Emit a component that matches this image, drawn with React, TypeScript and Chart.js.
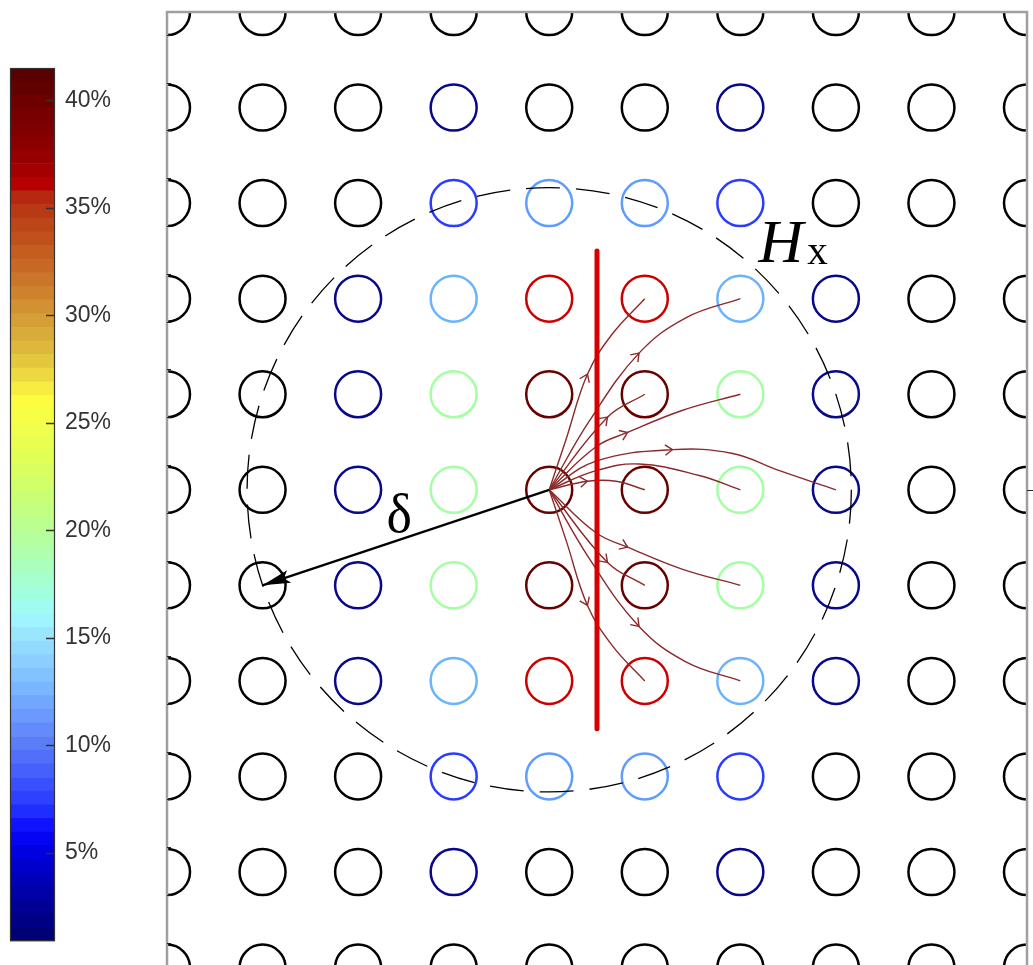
import React, { useEffect, useRef } from "react";
import { Chart, registerables } from "chart.js";
Chart.register(...registerables);

// ---- grid of circles (data units: one unit = one grid step) ----
const gridX = [-4, -3, -2, -1, 0, 1, 2, 3, 4, 5];
const gridY = [5, 4, 3, 2, 1, 0, -1, -2, -3, -4, -5];
// colour level of each circle, rows from top to bottom
const circleLevels = [
  [0, 0, 0, 0, 0, 0, 0, 0, 0, 0],
  [0, 0, 0, 1, 0, 0, 1, 0, 0, 0],
  [0, 0, 0, 2, 3, 3, 2, 0, 0, 0],
  [0, 0, 1, 4, 6, 6, 4, 1, 0, 0],
  [0, 0, 1, 5, 7, 7, 5, 1, 0, 0],
  [0, 0, 1, 5, 7, 7, 5, 1, 0, 0],
  [0, 0, 1, 5, 7, 7, 5, 1, 0, 0],
  [0, 0, 1, 4, 6, 6, 4, 1, 0, 0],
  [0, 0, 0, 2, 3, 3, 2, 0, 0, 0],
  [0, 0, 0, 1, 0, 0, 1, 0, 0, 0],
  [0, 0, 0, 0, 0, 0, 0, 0, 0, 0],
];
const levelColors = ["#000000", "#08088a", "#2a3cff", "#5f9cff", "#6ab4ff", "#a4ffa4", "#cc0000", "#680000"];

// ---- streamlines from the source circle (x, y) ----
const streamA = [[0, 0], [0.18, 0.54], [0.4, 1.21], [0.66, 1.63], [1, 2]];
const streamB = [[0, 0], [0.42, 0.72], [0.94, 1.43], [1.43, 1.8], [2, 2]];
const streamC = [[0, 0], [0.61, 0.76], [1, 1]];
const streamD = [[0, 0], [0.49, 0.45], [0.82, 0.6], [1.39, 0.83], [2, 1]];
const streamE = [[0, 0], [0.49, 0.3], [1.29, 0.42], [1.92, 0.38], [2.41, 0.2], [3, 0]];
const streamF = [[0, 0], [0.49, 0.2], [0.94, 0.27], [1.57, 0.15], [2, 0]];
const streamG = [[0, 0], [0.4, 0.09], [0.7, 0.09], [1, 0]];
const streamA2 = [[0, 0], [0.18, -0.54], [0.4, -1.21], [0.66, -1.63], [1, -2]];
const streamB2 = [[0, 0], [0.42, -0.72], [0.94, -1.43], [1.43, -1.8], [2, -2]];
const streamC2 = [[0, 0], [0.61, -0.76], [1, -1]];
const streamD2 = [[0, 0], [0.49, -0.45], [0.82, -0.6], [1.39, -0.83], [2, -1]];
const streamlines = [streamA, streamB, streamC, streamD, streamE, streamF, streamG, streamA2, streamB2, streamC2, streamD2];
const arrowIndices = [2, 2, 1, 2, 2, -1, 1, 2, 2, 1, 2];

const redLine = [[0.5, 2.5], [0.5, -2.5]];
const deltaArrow = [[0, 0], [-3, -1]];
const DELTA_CENTER = [0, 0];
const DELTA_RADIUS = 3.162;

const leftAxisTicks = [4.76, 4.26, 3.76, 3.26, 2.76, 2.26, 1.76, 1.26, 0.76, 0.26, -0.24, -0.74, -1.24, -1.74, -2.24, -2.74, -3.24, -3.74, -4.24, -4.74];
const rightAxisTicks = [0];

const deltaLabel = { text: "δ", x: -1.57, y: -0.44 };
const hLabel = { text: "H", x: 2.19, y: 2.386 };
const hSubLabel = { text: "x", x: 2.7, y: 2.365 };

// ---- colour bar ----
const COLORBAR_MIN = 0.89;
const COLORBAR_MAX = 41.51;
const COLORBAR_LEVELS = 64;
const colorbarTicks = [5, 10, 15, 20, 25, 30, 35, 40];
const colormapStops: [number, string][] = [
  [0.9, "#00006c"], [2.1, "#00008e"], [3.5, "#0000b0"], [5, "#0000e0"], [6, "#0808ff"],
  [7.2, "#2838ff"], [8.5, "#4058ff"], [10, "#5a7cf8"], [11.7, "#6fa0ff"], [13.1, "#80c0ff"],
  [14.9, "#98e0ff"], [16, "#a0f8ff"], [16.7, "#a0ffe8"], [18.3, "#aaffbe"], [20, "#b8ff96"],
  [21.3, "#c6ff78"], [23.1, "#dcff5a"], [25, "#f4ff48"], [26.1, "#fdfd40"], [27, "#f0e040"],
  [28.1, "#e0c03c"], [30, "#d49a34"], [31.4, "#cc7a2c"], [33.2, "#c2581e"], [34.2, "#bc4618"],
  [34.8, "#b83a14"], [35.5, "#b42810"], [36.1, "#b80000"], [36.7, "#a40000"], [37.4, "#960000"],
  [38, "#8a0000"], [38.6, "#800000"], [39.2, "#780000"], [39.9, "#6e0000"], [40.5, "#640000"],
  [41.2, "#5a0000"],
];

function hexRgb(h: string) {
  const n = parseInt(h.slice(1), 16);
  return [(n >> 16) & 255, (n >> 8) & 255, n & 255];
}
function sampleColormap(v: number) {
  const s = colormapStops;
  if (v <= s[0][0]) return s[0][1];
  if (v >= s[s.length - 1][0]) return s[s.length - 1][1];
  for (let i = 0; i < s.length - 1; i++) {
    const [a, ca] = s[i];
    const [b, cb] = s[i + 1];
    if (v >= a && v <= b) {
      const t = (v - a) / (b - a);
      const A = hexRgb(ca), B = hexRgb(cb);
      const c = A.map((x, k) => Math.round(x + (B[k] - x) * t));
      return `rgb(${c[0]},${c[1]},${c[2]})`;
    }
  }
  return s[0][1];
}

const overlayPlugin = {
  id: "overlay",
  afterDatasetsDraw(chart: any) {
    const { ctx, chartArea, scales } = chart;
    const xs = scales.x, ys = scales.y;
    const px = (v: number) => xs.getPixelForValue(v);
    const py = (v: number) => ys.getPixelForValue(v);
    ctx.save();

    // dashed circle of radius delta
    const cx = px(DELTA_CENTER[0]), cy = py(DELTA_CENTER[1]);
    const r = px(DELTA_CENTER[0] + DELTA_RADIUS) - cx;
    ctx.setLineDash([34, 16]);
    ctx.lineWidth = 1.3;
    ctx.strokeStyle = "#000";
    ctx.beginPath();
    ctx.arc(cx, cy, r, 0, Math.PI * 2);
    ctx.stroke();
    ctx.setLineDash([]);

    // open chevrons on streamlines
    chart.data.datasets.forEach((ds: any, i: number) => {
      const idx = ds.arrowIndex;
      if (idx == null || idx < 0) return;
      const meta = chart.getDatasetMeta(i);
      const p = meta.data[idx];
      if (!p) return;
      let dx, dy;
      if (p.cp1x !== undefined && p.cp2x !== undefined && (p.cp2x !== p.cp1x || p.cp2y !== p.cp1y)) {
        dx = p.cp2x - p.cp1x; dy = p.cp2y - p.cp1y;
      } else {
        const a = meta.data[idx - 1], b = meta.data[idx + 1];
        dx = b.x - a.x; dy = b.y - a.y;
      }
      const ang = Math.atan2(dy, dx);
      const L = 9, spread = 0.62;
      ctx.strokeStyle = ds.borderColor;
      ctx.lineWidth = 1.4;
      ctx.beginPath();
      ctx.moveTo(p.x - L * Math.cos(ang - spread), p.y - L * Math.sin(ang - spread));
      ctx.lineTo(p.x, p.y);
      ctx.lineTo(p.x - L * Math.cos(ang + spread), p.y - L * Math.sin(ang + spread));
      ctx.stroke();
    });

    // filled arrow head of delta arrow
    const sx = px(deltaArrow[0][0]), sy = py(deltaArrow[0][1]);
    const tx = px(deltaArrow[1][0]), ty = py(deltaArrow[1][1]);
    const ang = Math.atan2(ty - sy, tx - sx);
    const AL = 28, AW = 6.5;
    const bx = tx - AL * Math.cos(ang), by = ty - AL * Math.sin(ang);
    ctx.fillStyle = "#000";
    ctx.beginPath();
    ctx.moveTo(tx, ty);
    ctx.lineTo(bx + AW * Math.sin(ang), by - AW * Math.cos(ang));
    ctx.lineTo(tx - AL * 0.8 * Math.cos(ang), ty - AL * 0.8 * Math.sin(ang));
    ctx.lineTo(bx - AW * Math.sin(ang), by + AW * Math.cos(ang));
    ctx.closePath();
    ctx.fill();

    // labels
    ctx.fillStyle = "#000";
    ctx.textBaseline = "alphabetic";
    ctx.textAlign = "center";
    ctx.font = '54px "Liberation Serif"';
    ctx.fillText(deltaLabel.text, px(deltaLabel.x), py(deltaLabel.y));
    ctx.textAlign = "left";
    ctx.font = 'italic 62px "Liberation Serif"';
    ctx.fillText(hLabel.text, px(hLabel.x), py(hLabel.y));
    ctx.font = '41px "Liberation Serif"';
    ctx.fillText(hSubLabel.text, px(hSubLabel.x), py(hSubLabel.y));

    // axes frame (left, top, right)
    const { left, top, right, bottom } = chartArea;
    ctx.strokeStyle = "#a0a0a0";
    ctx.lineWidth = 2.5;
    ctx.lineJoin = "miter";
    ctx.beginPath();
    ctx.moveTo(left, bottom + 5);
    ctx.lineTo(left, top);
    ctx.lineTo(right, top);
    ctx.lineTo(right, bottom + 5);
    ctx.stroke();

    // tick marks
    ctx.strokeStyle = "#222";
    ctx.lineWidth = 1.2;
    ctx.beginPath();
    leftAxisTicks.forEach((v) => {
      const y = Math.round(py(v)) + 0.5;
      ctx.moveTo(left, y);
      ctx.lineTo(left + 4, y);
    });
    rightAxisTicks.forEach((v) => {
      const y = Math.round(py(v)) + 0.5;
      ctx.moveTo(right, y);
      ctx.lineTo(right + 6, y);
    });
    ctx.stroke();
    ctx.restore();
  },
};

const colorbarPlugin = {
  id: "cbframe",
  afterDatasetsDraw(chart: any) {
    const { ctx, chartArea, scales } = chart;
    const { left, top, right, bottom } = chartArea;
    ctx.save();
    ctx.strokeStyle = "#333";
    ctx.lineWidth = 1.2;
    ctx.strokeRect(left + 0.5, top + 0.5, right - left - 1, bottom - top - 1);
    ctx.beginPath();
    colorbarTicks.forEach((v) => {
      const y = Math.round(scales.y.getPixelForValue(v)) + 0.5;
      ctx.moveTo(right - 9, y);
      ctx.lineTo(right, y);
    });
    ctx.lineWidth = 1.5;
    ctx.stroke();
    ctx.restore();
  },
};

export default function App() {
  const mainRef = useRef<HTMLCanvasElement>(null);
  const cbRef = useRef<HTMLCanvasElement>(null);

  useEffect(() => {
    const circlePoints: { x: number; y: number }[] = [];
    const circleColors: string[] = [];
    gridY.forEach((yv, r) =>
      gridX.forEach((xv, c) => {
        circlePoints.push({ x: xv, y: yv });
        circleColors.push(levelColors[circleLevels[r][c]]);
      })
    );
    const toXY = (pts: number[][]) => pts.map(([x, y]) => ({ x, y }));

    const datasets: any[] = [
      {
        label: "circles",
        data: circlePoints,
        showLine: false,
        pointRadius: 23,
        pointHoverRadius: 23,
        pointBorderWidth: 2.5,
        pointHoverBorderWidth: 2.5,
        pointBorderColor: circleColors,
        pointBackgroundColor: "rgba(0,0,0,0)",
        order: 10,
        clip: { left: 0, top: 0, right: 0, bottom: false },
      },
      ...streamlines.map((s, i) => ({
        label: "stream" + i,
        data: toXY(s),
        showLine: true,
        borderColor: "#8c2a2a",
        borderWidth: 1.4,
        pointRadius: 0,
        pointHoverRadius: 0,
        tension: 0.4,
        order: 5,
        arrowIndex: arrowIndices[i],
      })),
      {
        label: "boundary",
        data: toXY(redLine),
        showLine: true,
        borderColor: "#d60000",
        borderWidth: 5,
        borderCapStyle: "round",
        pointRadius: 0,
        pointHoverRadius: 0,
        order: 2,
      },
      {
        label: "delta",
        data: toXY(deltaArrow),
        showLine: true,
        borderColor: "#000",
        borderWidth: 2.3,
        pointRadius: 0,
        pointHoverRadius: 0,
        order: 1,
      },
    ];

    const main = new Chart(mainRef.current!, {
      type: "scatter",
      data: { datasets },
      options: {
        responsive: false,
        animation: false,
        events: [],
        layout: { autoPadding: false, padding: { left: 167, top: 12, right: 6, bottom: 0 } },
        plugins: { legend: { display: false }, tooltip: { enabled: false } },
        scales: {
          x: { type: "linear", min: -4, max: 5, display: false },
          y: { type: "linear", min: -4.973, max: 5, display: false },
        },
      },
      plugins: [overlayPlugin],
    });

    const step = (COLORBAR_MAX - COLORBAR_MIN) / COLORBAR_LEVELS;
    const cbDatasets = Array.from({ length: COLORBAR_LEVELS }, (_, i) => {
      const lo = COLORBAR_MIN + i * step;
      const hi = lo + step;
      return {
        label: "lvl" + i,
        data: [[lo, hi]],
        backgroundColor: sampleColormap(lo + step / 2),
        borderWidth: 0,
        barPercentage: 1,
        categoryPercentage: 1,
        grouped: false,
      };
    });

    const cb = new Chart(cbRef.current!, {
      type: "bar",
      data: { labels: ["colorbar"], datasets: cbDatasets as any },
      options: {
        responsive: false,
        animation: false,
        events: [],
        layout: { autoPadding: false, padding: { left: 10, top: 68, right: 45, bottom: 8 } },
        plugins: { legend: { display: false }, tooltip: { enabled: false } },
        scales: {
          x: { display: false },
          y: {
            position: "right",
            min: COLORBAR_MIN,
            max: COLORBAR_MAX,
            grid: { display: false, drawTicks: false },
            border: { display: false },
            afterFit: (s: any) => {
              s.width = 60;
            },
            afterBuildTicks: (s: any) => {
              s.ticks = colorbarTicks.map((v) => ({ value: v }));
            },
            ticks: {
              padding: 10,
              color: "#333",
              font: { size: 23, family: '"Liberation Sans", Arial, sans-serif' },
              callback: (v: any) => v + "%",
            },
          },
        },
      },
      plugins: [colorbarPlugin],
    });

    return () => {
      main.destroy();
      cb.destroy();
    };
  }, []);

  return (
    <div style={{ position: "fixed", left: 0, top: 0, width: 1033, height: 965, background: "#fff", overflow: "hidden" }}>
      <canvas ref={mainRef} width={1033} height={965} style={{ position: "absolute", left: 0, top: 0, display: "block" }} />
      <canvas ref={cbRef} width={160} height={965} style={{ position: "absolute", left: 0, top: 0, display: "block" }} />
    </div>
  );
}
